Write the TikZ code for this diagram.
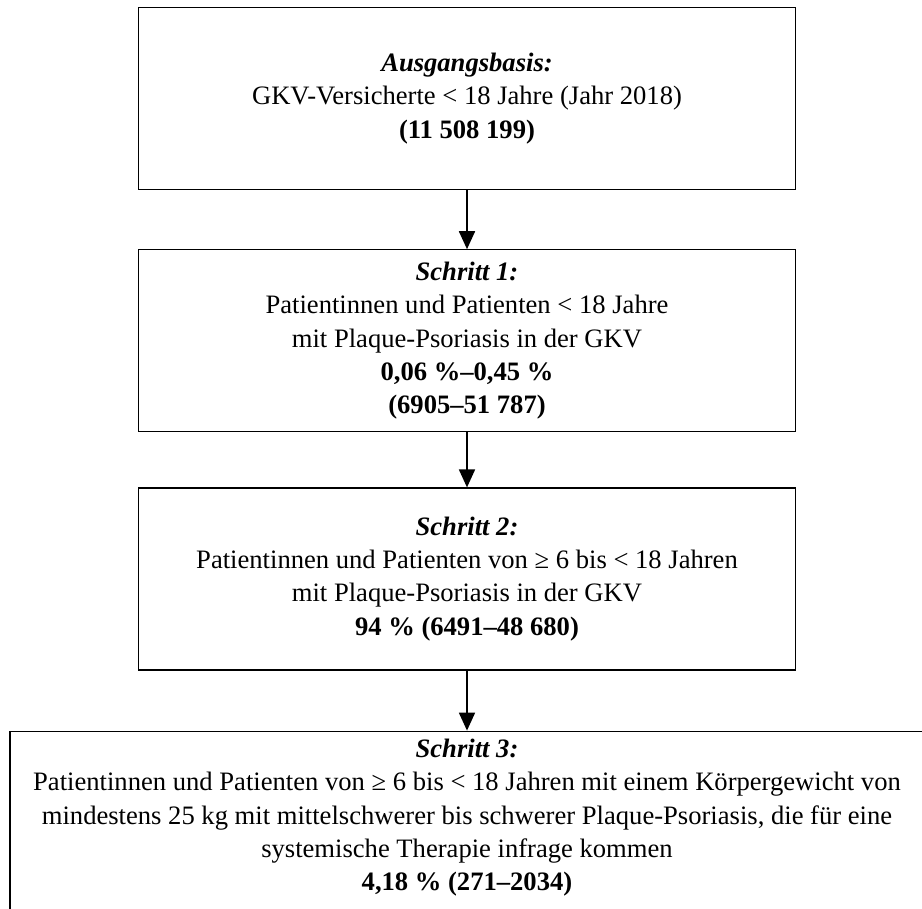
\documentclass[tikz,border=0pt]{standalone}
\usepackage{fontspec}
\setmainfont{Liberation Serif}
\usetikzlibrary{arrows.meta, positioning}

\begin{document}
\begin{tikzpicture}[
  node distance=29pt,
  box/.style={rectangle, draw=black, line width=0.6pt,
              minimum width=328.5pt, minimum height=91pt, align=center,
              font=\fontsize{13.3}{16.6}\selectfont, inner sep=0pt},
  widebox/.style={box, minimum width=457pt, inner ysep=4pt},
  arr/.style={-{Triangle[length=9pt, width=8pt]}, line width=0.9pt}
]
  \useasboundingbox (0,0) rectangle (461pt,-454.5pt);
  \clip (0,0) rectangle (461pt,-454.5pt);

  \node[box, anchor=north] (base) at (233.5pt,-3.5pt)
    {\textbf{\textit{Ausgangsbasis:}}\\
     GKV-Versicherte < 18 Jahre (Jahr 2018)\\
     \textbf{(11~508~199)}};
  \node[box, below=29.5pt of base] (s1)
    {\textbf{\textit{Schritt 1:}}\\
     Patientinnen und Patienten < 18 Jahre\\
     mit Plaque-Psoriasis in der GKV\\
     \textbf{0,06 \%–0,45 \%}\\
     \textbf{(6905–51~787)}};
  \node[box, below=27.5pt of s1] (s2)
    {\textbf{\textit{Schritt 2:}}\\
     Patientinnen und Patienten von ≥ 6 bis < 18 Jahren\\
     mit Plaque-Psoriasis in der GKV\\
     \textbf{94 \% (6491–48~680)}};
  \node[widebox, below=30pt of s2] (s3)
    {\textbf{\textit{Schritt 3:}}\\
     Patientinnen und Patienten von ≥ 6 bis < 18 Jahren mit einem Körpergewicht von\\
     mindestens 25 kg mit mittelschwerer bis schwerer Plaque-Psoriasis, die für eine\\
     systemische Therapie infrage kommen\\
     \textbf{4,18 \% (271–2034)}\\[6pt]\mbox{}};

  \draw[arr] (base)--(s1);
  \draw[arr] (s1)--(s2);
  \draw[arr] (s2)--(s3);
\end{tikzpicture}
\end{document}
